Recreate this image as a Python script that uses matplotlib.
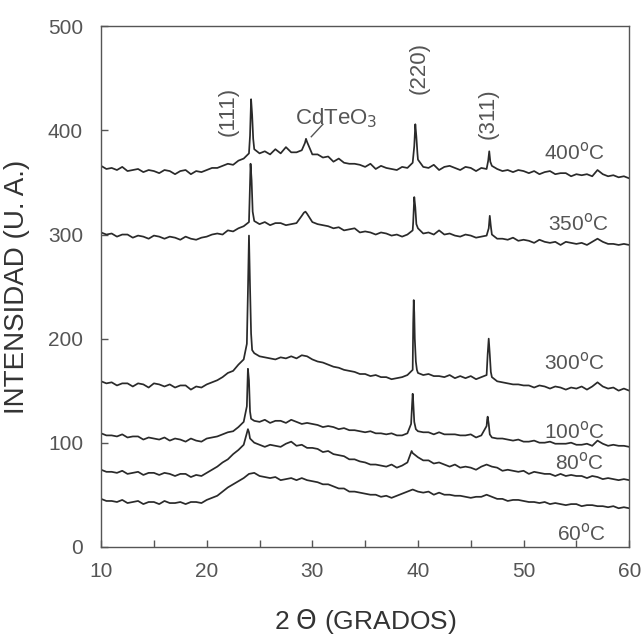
import numpy as np
import matplotlib
matplotlib.use("Agg")
import matplotlib.pyplot as plt

plt.rcParams['font.family'] = ['Liberation Sans', 'DejaVu Sans']

# common 2-theta grid, 0.5 degree steps from 10 to 60
two_theta = np.arange(10.0, 60.01, 0.5)

# intensity on the grid for each annealing temperature (offset traces)
y_400 = [366, 363, 364, 362, 365, 361, 362, 363, 360, 362,
         361, 359, 362, 361, 358, 361, 362, 358, 361, 360,
         362, 364, 364, 366, 368, 367, 371, 373, 378, 382,
         378, 380, 377, 382, 378, 384, 379, 379, 381, 389,
         377, 377, 374, 375, 370, 373, 369, 368, 368, 367,
         365, 368, 363, 366, 364, 363, 362, 365, 364, 369,
         372, 365, 364, 367, 362, 365, 366, 364, 362, 365,
         364, 361, 364, 363, 366, 363, 361, 362, 360, 362,
         361, 359, 361, 358, 360, 361, 358, 359, 359, 356,
         358, 357, 358, 356, 362, 358, 356, 357, 355, 356,
         354]
y_350 = [302, 300, 301, 298, 300, 300, 297, 299, 298, 296,
         299, 298, 296, 298, 297, 295, 298, 296, 295, 297,
         298, 300, 301, 300, 304, 303, 306, 308, 312, 313,
         310, 312, 309, 311, 311, 309, 310, 311, 318, 320,
         312, 310, 309, 308, 306, 307, 304, 305, 306, 302,
         303, 302, 300, 302, 301, 299, 300, 298, 300, 304,
         306, 301, 302, 300, 304, 300, 301, 299, 298, 300,
         299, 297, 298, 299, 300, 296, 296, 295, 297, 294,
         295, 294, 292, 295, 293, 292, 293, 290, 293, 292,
         291, 292, 290, 293, 296, 293, 291, 291, 290, 291,
         290]
y_300 = [159, 157, 158, 155, 157, 157, 154, 157, 156, 153,
         157, 156, 154, 156, 153, 155, 155, 151, 154, 153,
         156, 158, 160, 163, 167, 169, 175, 180, 299, 186,
         183, 182, 181, 180, 182, 181, 183, 181, 184, 183,
         180, 178, 177, 175, 173, 172, 170, 169, 168, 166,
         166, 164, 165, 163, 163, 161, 162, 163, 165, 170,
         167, 165, 166, 164, 164, 163, 165, 162, 164, 162,
         164, 161, 163, 165, 163, 159, 158, 157, 156, 156,
         155, 155, 153, 155, 154, 152, 154, 153, 151, 153,
         152, 154, 151, 154, 158, 154, 152, 153, 150, 152,
         150]
y_100 = [109, 107, 107, 106, 108, 105, 106, 106, 103, 105,
         104, 103, 105, 102, 104, 103, 101, 104, 102, 101,
         104, 105, 106, 108, 110, 111, 115, 120, 160, 121,
         120, 122, 119, 121, 121, 119, 122, 120, 118, 119,
         118, 117, 115, 116, 115, 113, 114, 112, 112, 111,
         110, 111, 109, 109, 108, 109, 107, 107, 109, 147,
         111, 110, 110, 108, 110, 108, 108, 108, 107, 107,
         108, 105, 107, 116, 105, 104, 104, 103, 102, 103,
         101, 101, 102, 100, 100, 101, 99, 99, 99, 100,
         98, 98, 99, 97, 102, 99, 97, 98, 97, 97,
         96]
y_80 = [74, 72, 72, 71, 73, 70, 71, 72, 69, 71,
        71, 69, 71, 70, 68, 70, 70, 67, 69, 68,
        71, 74, 77, 81, 84, 89, 93, 98, 110, 100,
        98, 96, 98, 97, 96, 99, 101, 97, 98, 95,
        95, 94, 91, 92, 89, 88, 87, 84, 84, 82,
        81, 79, 79, 78, 77, 79, 76, 78, 81, 90,
        86, 83, 83, 80, 81, 79, 77, 79, 76, 77,
        76, 74, 77, 79, 77, 76, 73, 74, 73, 72,
        73, 70, 72, 71, 70, 70, 68, 70, 68, 69,
        68, 68, 66, 68, 67, 65, 66, 65, 64, 65,
        64]
y_60 = [46, 44, 44, 43, 45, 42, 43, 44, 41, 43,
        43, 41, 44, 42, 42, 43, 41, 43, 43, 42,
        45, 47, 49, 53, 57, 60, 63, 66, 70, 71,
        68, 67, 66, 67, 64, 65, 66, 64, 66, 64,
        63, 62, 60, 60, 58, 56, 56, 53, 53, 52,
        51, 50, 50, 48, 49, 47, 49, 51, 53, 55,
        53, 52, 53, 50, 52, 50, 50, 49, 49, 48,
        47, 48, 48, 50, 48, 46, 46, 44, 45, 45,
        44, 43, 43, 42, 43, 41, 42, 41, 40, 41,
        41, 39, 40, 40, 39, 39, 38, 39, 37, 38,
        37]

# extra points across the sharp reflections
pk_400_x = [24.1, 24.2, 24.3, 24.4, 29.3, 29.4, 39.65, 39.75, 39.85, 39.95, 46.65, 46.75, 46.85]
pk_400_y = [395, 430, 415, 392, 388, 392, 385, 406, 394, 378, 371, 380, 370]
pk_350_x = [24.05, 24.15, 24.25, 24.35, 29.2, 29.35, 39.55, 39.65, 39.75, 39.85, 46.7, 46.8, 46.9]
pk_350_y = [330, 368, 352, 322, 321, 322, 312, 336, 326, 310, 306, 318, 308]
pk_300_x = [23.8, 23.9, 24.1, 24.2, 24.3, 39.55, 39.6, 39.65, 39.7, 39.8, 39.9, 46.6, 46.7, 46.8, 46.9]
pk_300_y = [195, 245, 250, 205, 189, 215, 237, 225, 200, 178, 170, 185, 200, 185, 168]
pk_100_x = [23.8, 23.9, 24.1, 24.2, 39.35, 39.45, 39.55, 39.65, 39.8, 46.55, 46.6, 46.7, 46.8]
pk_100_y = [135, 171, 130, 123, 118, 138, 140, 120, 113, 122, 125, 118, 108]
pk_80_x = [23.9, 24.1, 39.4]
pk_80_y = [113, 104, 92]
pk_60_x = []
pk_60_y = []

temps = ["400", "350", "300", "100", "80", "60"]
grid_values = [y_400, y_350, y_300, y_100, y_80, y_60]
peak_x = [pk_400_x, pk_350_x, pk_300_x, pk_100_x, pk_80_x, pk_60_x]
peak_y = [pk_400_y, pk_350_y, pk_300_y, pk_100_y, pk_80_y, pk_60_y]

# where each temperature tag sits (x, y in data units)
tag_pos = [(54.8, 379), (55.2, 311), (54.8, 177), (54.8, 111), (55.3, 81), (55.5, 13)]

grey = "#555555"
fig = plt.figure(figsize=(6.44, 6.44), dpi=100)
ax = fig.add_axes([0.157, 0.151, 0.820, 0.808])

for t, yg, px, py, pos in zip(temps, grid_values, peak_x, peak_y, tag_pos):
    xs = np.concatenate([two_theta, px])
    ys = np.concatenate([yg, py])
    order = np.argsort(xs)
    ax.plot(xs[order], ys[order], color="#2a2a2a", lw=1.25)
    ax.text(pos[0], pos[1], t + r"$^{\mathrm{o}}$C", fontsize=15, color=grey,
            ha="center", va="center")

# reflection labels
ax.text(22.0, 418, "(111)", rotation=90, fontsize=16, color=grey, ha="center", va="center")
ax.text(40.1, 460, "(220)", rotation=90, fontsize=16, color=grey, ha="center", va="center")
ax.text(46.6, 416, "(311)", rotation=90, fontsize=16, color=grey, ha="center", va="center")
ax.text(32.3, 412, r"CdTeO$_3$", fontsize=16, color=grey, ha="center", va="center")
ax.plot([29.9, 31.0], [394, 406], color=grey, lw=1.0)

ax.set_xlim(10, 60)
ax.set_ylim(0, 500)
ax.set_xticks(range(10, 61, 10))
ax.set_xticks(range(15, 60, 10), minor=True)
ax.set_yticks(range(0, 501, 100))
ax.tick_params(which="both", direction="in", length=5, width=1, color=grey,
               labelcolor=grey, labelsize=15)
ax.tick_params(axis="x", pad=11)
ax.tick_params(axis="y", pad=13)
for s in ax.spines.values():
    s.set_color(grey)
    s.set_linewidth(1.0)

ax.set_xlabel(r"2 $\Theta$ (GRADOS)", fontsize=19, color="#333333")
ax.set_ylabel("INTENSIDAD (U. A.)", fontsize=20, color="#333333")
ax.xaxis.set_label_coords(0.5, -0.115)
ax.yaxis.set_label_coords(-0.135, 0.5)

fig.savefig("out.png", dpi=100)
